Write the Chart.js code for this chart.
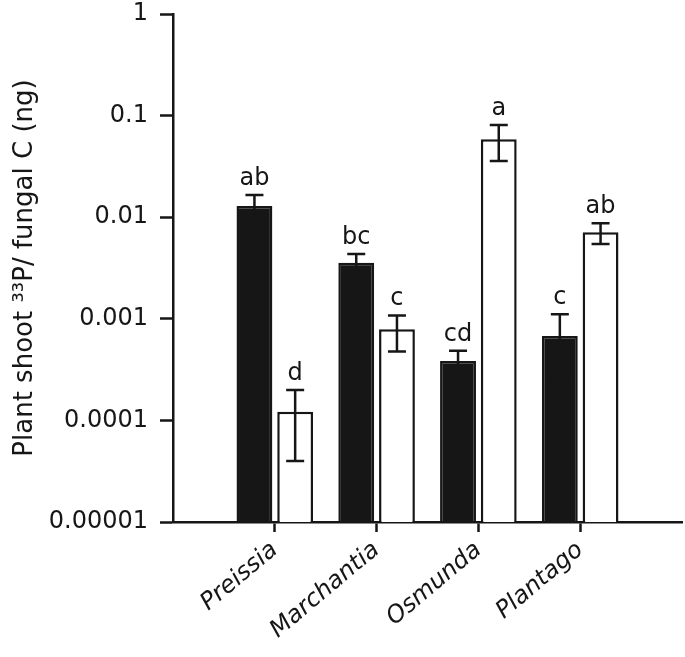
<!DOCTYPE html>
<html>
<head>
<meta charset="utf-8">
<script src="https://cdn.jsdelivr.net/npm/chart.js@4.4.1/dist/chart.umd.min.js"></script>
<style>
  html, body { margin: 0; padding: 0; background: #fff; }
  #wrap { width: 685px; height: 657px; }
</style>
</head>
<body>
<div id="wrap"><canvas id="chart"></canvas></div>
<script>
// genera on the x axis; the empty slots at both ends keep the axis wide like the figure
const categories = ['', 'Preissia', 'Marchantia', 'Osmunda', 'Plantago', ''];

// filled (black) bars
const filledMeans = [null, 0.0129, 0.00356, 0.000385, 0.000678, null];
const filledUpper = [null, 0.0165, 0.00435, 0.000485, 0.00111, null];
const filledLower = [null, 0.0093, 0.00277, 0.000285, 0.000246, null];
const filledLetters = ['', 'ab', 'bc', 'cd', 'c', ''];

// open (white) bars
const openMeans = [null, 0.000122, 0.000791, 0.0585, 0.0071, null];
const openUpper = [null, 0.000199, 0.00108, 0.0807, 0.00871, null];
const openLower = [null, 0.0000398, 0.000477, 0.0357, 0.00544, null];
const openLetters = ['', 'd', 'c', 'a', 'ab', ''];

const yTickValues = [0.00001, 0.0001, 0.001, 0.01, 0.1, 1];
const yTickLabels = ['0.00001', '0.0001', '0.001', '0.01', '0.1', '1'];

const ink = '#161616';
const fontFamily = '"DejaVu Sans", sans-serif';

// error bars + significance letters
const errorBarPlugin = {
    id: 'errorBars',
    afterDatasetsDraw(chart) {
        const ctx = chart.ctx;
        const yScale = chart.scales.y;
        chart.data.datasets.forEach((ds, di) => {
            const meta = chart.getDatasetMeta(di);
            meta.data.forEach((bar, i) => {
                if (ds.data[i] == null) return;
                const x = bar.x;
                const top = yScale.getPixelForValue(ds.errUpper[i]);
                const bottom = yScale.getPixelForValue(ds.errLower[i]);
                ctx.save();
                ctx.strokeStyle = ink;
                ctx.lineWidth = 2.5;
                ctx.beginPath();
                ctx.moveTo(x, top);
                ctx.lineTo(x, bottom);
                ctx.moveTo(x - 9, top);
                ctx.lineTo(x + 9, top);
                ctx.moveTo(x - 9, bottom);
                ctx.lineTo(x + 9, bottom);
                ctx.stroke();
                ctx.fillStyle = ink;
                ctx.font = '24px ' + fontFamily;
                ctx.textAlign = 'center';
                ctx.textBaseline = 'alphabetic';
                ctx.fillText(ds.letters[i], x, top - 10);
                ctx.restore();
            });
        });
    }
};

new Chart(document.getElementById('chart'), {
    type: 'bar',
    data: {
        labels: categories,
        datasets: [
            {
                label: 'Filled',
                data: filledMeans,
                errUpper: filledUpper,
                errLower: filledLower,
                letters: filledLetters,
                backgroundColor: ink,
                borderColor: ink,
                borderWidth: 2.5,
                categoryPercentage: 0.8,
                barPercentage: 0.88
            },
            {
                label: 'Open',
                data: openMeans,
                errUpper: openUpper,
                errLower: openLower,
                letters: openLetters,
                backgroundColor: '#ffffff',
                borderColor: ink,
                borderWidth: 2.5,
                categoryPercentage: 0.8,
                barPercentage: 0.88
            }
        ]
    },
    options: {
        responsive: true,
        maintainAspectRatio: false,
        animation: false,
        layout: { padding: { top: 0, right: 3, left: 0, bottom: 0 } },
        plugins: {
            legend: { display: false },
            tooltip: { enabled: false }
        },
        scales: {
            x: {
                offset: false,
                grid: {
                    offset: false,
                    drawOnChartArea: false,
                    tickLength: 10,
                    tickWidth: 2.5,
                    tickColor: (c) => (c.index === 0 || c.index === categories.length - 1) ? 'rgba(0,0,0,0)' : ink
                },
                border: { color: ink, width: 2.5 },
                ticks: {
                    autoSkip: false,
                    minRotation: 40,
                    maxRotation: 40,
                    padding: 4,
                    color: ink,
                    font: { family: fontFamily, size: 24, style: 'italic' }
                },
                afterFit(scale) {
                    scale.height = 135;
                    scale.paddingLeft = 0;
                    scale.paddingRight = 0;
                }
            },
            y: {
                type: 'logarithmic',
                min: 0.00001,
                max: 1,
                afterBuildTicks(scale) {
                    scale.ticks = yTickValues.map(v => ({ value: v }));
                },
                ticks: {
                    callback: (value, index) => yTickLabels[index],
                    padding: 12,
                    color: ink,
                    font: { family: fontFamily, size: 24 }
                },
                grid: {
                    drawOnChartArea: false,
                    tickLength: 13,
                    tickWidth: 2.5,
                    tickColor: ink
                },
                border: { color: ink, width: 2.5 },
                title: {
                    display: true,
                    text: 'Plant shoot ³³P/ fungal C (ng)',
                    padding: { top: 10, bottom: 0 },
                    color: ink,
                    font: { family: fontFamily, size: 26 }
                },
                afterFit(scale) {
                    scale.width = 173;
                    scale.paddingTop = 14;
                    scale.paddingBottom = 0;
                }
            }
        }
    },
    plugins: [errorBarPlugin]
});
</script>
</body>
</html>
